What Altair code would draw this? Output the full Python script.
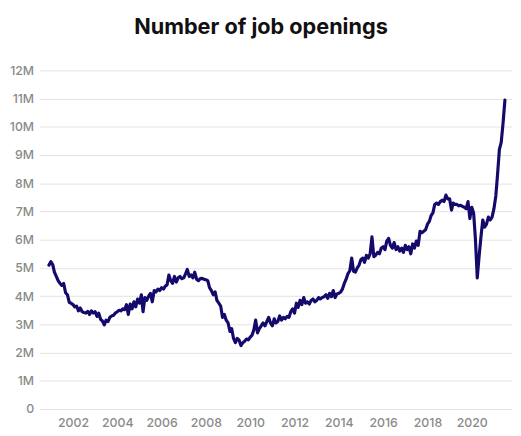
import altair as alt
import pandas as pd

# Job openings, millions, monthly (Dec 2000 - Jul 2021)
y2000 = [5.10]
y2001 = [5.22, 5.12, 4.85, 4.70, 4.55, 4.45, 4.38, 4.45, 4.12, 4.05, 3.78, 3.75]
y2002 = [3.70, 3.62, 3.65, 3.48, 3.58, 3.45, 3.42, 3.40, 3.46, 3.35, 3.48, 3.40]
y2003 = [3.45, 3.28, 3.40, 3.18, 3.12, 2.98, 3.15, 3.10, 3.25, 3.30, 3.32, 3.40]
y2004 = [3.45, 3.50, 3.48, 3.55, 3.52, 3.70, 3.35, 3.72, 3.55, 3.80, 3.62, 3.90]
y2005 = [3.75, 4.05, 3.45, 3.95, 3.85, 4.00, 4.10, 3.80, 4.20, 4.15, 4.25, 4.20]
y2006 = [4.30, 4.25, 4.35, 4.40, 4.75, 4.55, 4.45, 4.70, 4.50, 4.65, 4.70, 4.62]
y2007 = [4.65, 4.80, 4.95, 4.70, 4.75, 4.65, 4.85, 4.60, 4.55, 4.62, 4.63, 4.60]
y2008 = [4.58, 4.55, 4.30, 4.20, 4.05, 4.15, 3.85, 3.75, 3.65, 3.25, 3.35, 3.15]
y2009 = [3.05, 2.75, 2.85, 2.50, 2.35, 2.50, 2.45, 2.25, 2.35, 2.40, 2.48, 2.45]
y2010 = [2.55, 2.62, 2.80, 3.15, 2.70, 2.85, 2.95, 3.05, 2.95, 3.10, 3.25, 3.05]
y2011 = [2.95, 3.20, 3.05, 3.10, 3.30, 3.15, 3.25, 3.20, 3.28, 3.25, 3.45, 3.55]
y2012 = [3.40, 3.75, 3.60, 3.85, 3.70, 3.95, 3.75, 3.80, 3.72, 3.85, 3.90, 3.80]
y2013 = [3.85, 3.95, 3.90, 3.95, 3.98, 4.05, 3.92, 4.10, 3.98, 4.20, 3.95, 4.08]
y2014 = [4.10, 4.15, 4.25, 4.45, 4.60, 4.80, 4.90, 5.35, 4.88, 4.85, 5.00, 5.10]
y2015 = [5.30, 5.35, 5.20, 5.45, 5.35, 5.50, 6.10, 5.40, 5.45, 5.55, 5.50, 5.70]
y2016 = [5.75, 5.65, 5.95, 6.05, 5.80, 5.70, 5.90, 5.65, 5.75, 5.60, 5.70, 5.55]
y2017 = [5.80, 5.65, 5.75, 5.50, 5.85, 5.70, 5.95, 5.80, 6.30, 6.25, 6.30, 6.35]
y2018 = [6.55, 6.65, 6.85, 6.95, 7.25, 7.30, 7.25, 7.35, 7.40, 7.35, 7.58, 7.45]
y2019 = [7.45, 7.05, 7.30, 7.25, 7.25, 7.20, 7.22, 7.18, 7.15, 7.10, 7.35, 6.75]
y2020 = [7.15, 6.95, 6.05, 4.65, 5.40, 6.10, 6.70, 6.45, 6.55, 6.80, 6.70, 6.80]
y2021 = [7.10, 7.55, 8.30, 9.20, 9.45, 10.15, 10.95]

values = (y2000 + y2001 + y2002 + y2003 + y2004 + y2005 + y2006 + y2007 + y2008
          + y2009 + y2010 + y2011 + y2012 + y2013 + y2014 + y2015 + y2016 + y2017
          + y2018 + y2019 + y2020 + y2021)
dates = pd.date_range("2000-12-01", periods=len(values), freq="MS").strftime("%Y-%m-%d")
df = pd.DataFrame({"date": dates, "openings": values})

year_ticks = [alt.DateTime(year=y, month=1, date=1, utc=True) for y in range(2002, 2021, 2)]

chart = alt.Chart(df).mark_line(
    color="#140a6c", strokeWidth=3.2, strokeJoin="round", strokeCap="round"
).encode(
    x=alt.X("date:T",
            scale=alt.Scale(type="utc",
                            domain=[alt.DateTime(year=2000, month=6, date=28, utc=True),
                                    alt.DateTime(year=2021, month=10, date=26, utc=True)]),
            axis=alt.Axis(title=None, values=year_ticks, format="%Y", grid=False,
                          ticks=False, domain=False, labelPadding=8,
                          labelFontSize=12.5, labelColor="#8a8a8a", labelFont="Inter",
                          labelFontWeight=500, labelOverlap=False)),
    y=alt.Y("openings:Q",
            scale=alt.Scale(domain=[0, 12], nice=False),
            axis=alt.Axis(title=None, values=list(range(0, 13)),
                          labelExpr="datum.value == 0 ? '0' : datum.value + 'M'",
                          ticks=False, domain=False, gridColor="#e3e3e3",
                          gridWidth=1, labelPadding=6, labelFontSize=12.5,
                          labelColor="#8a8a8a", labelFont="Inter",
                          labelFontWeight=500, labelOverlap=False)),
).properties(
    width=480,
    height=344,
    title=alt.TitleParams("Number of job openings", fontSize=22, font="Inter",
                          fontWeight="bold", color="#111111", anchor="middle",
                          offset=26, dx=-15),
    autosize=alt.AutoSizeParams(type="none"),
    padding={"left": 32, "top": 60, "right": 1, "bottom": 24},
).configure_view(stroke=None)

chart.save("out.html", embed_options={"renderer": "svg", "actions": False})
